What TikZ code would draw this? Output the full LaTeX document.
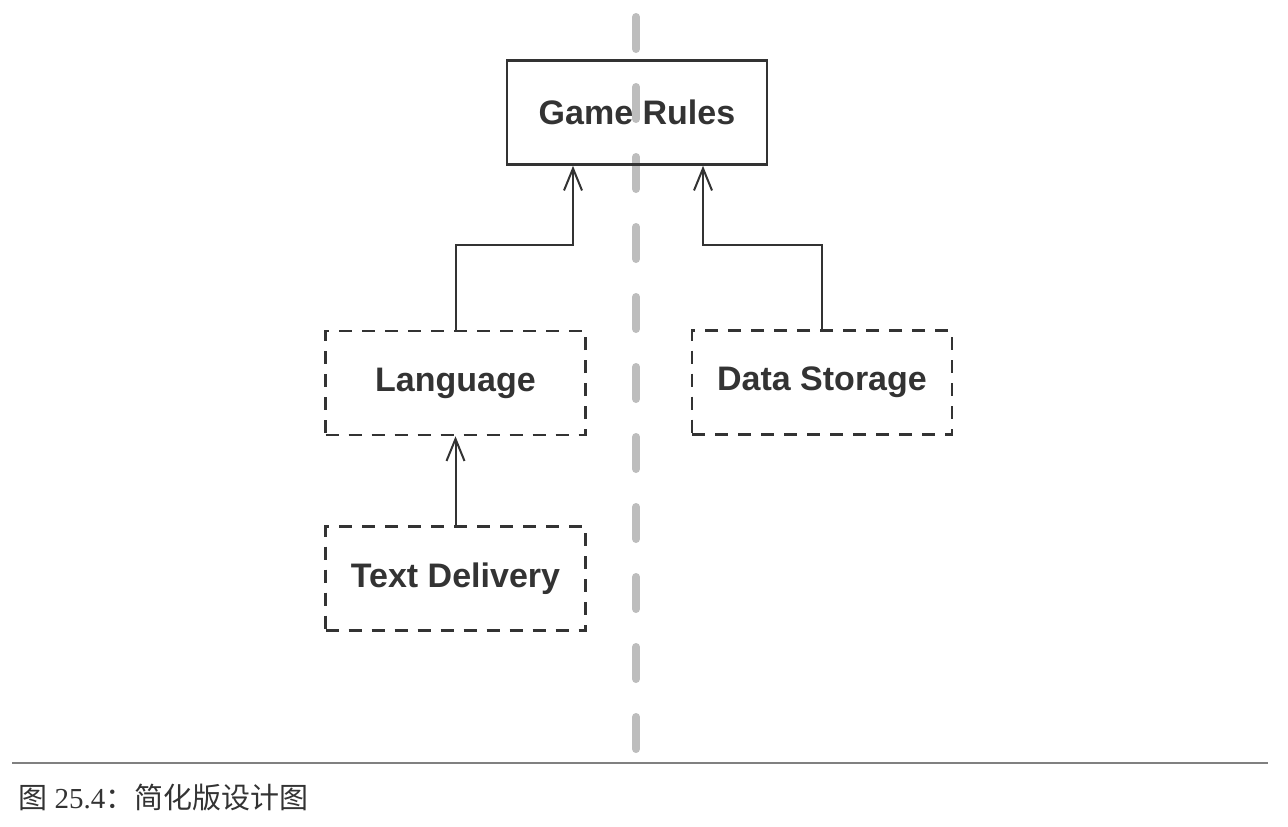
\documentclass[tikz,border=0pt]{standalone}
\usepackage{fontspec}
\setmainfont{Liberation Serif}
\newfontfamily\boxfont{Liberation Sans}
\newfontfamily\cjk{Noto Sans CJK SC}
\usetikzlibrary{arrows.meta,positioning}
\definecolor{ink}{HTML}{333333}
\definecolor{splitgray}{HTML}{BDBDBD}

\begin{document}
\begin{tikzpicture}[x=0.5pt,y=-0.5pt,>={Straight Barb[length=11pt,width=9pt]},
    node distance=44.5pt,
    module/.style={draw=ink,line width=1.3pt,minimum width=130pt,minimum height=52pt,
      text=ink,font=\boxfont\bfseries\fontsize{17pt}{20pt}\selectfont},
    planned/.style={module,dash pattern=on 6.5pt off 5pt}]
  \useasboundingbox (0,0) rectangle (1288,826);
  % dividing line
  \draw[splitgray,line width=4pt,line cap=round,dash pattern=on 16pt off 19pt] (636,17) -- (636,749);
  \node[module] (rules) at (637,112.5) {Game Rules};
  \node[planned] (lang) at (455.5,383) {Language};
  \node[planned] (store) at (822,382.5) {Data Storage};
  \node[planned] (text) [below=of lang] {Text Delivery};
  \coordinate (langbend) at (573,245);
  \coordinate (storebend) at (703,245);
  \draw[->,ink,line width=1pt] (lang.north) |- (langbend) -- (rules.south -| langbend);
  \draw[->,ink,line width=1pt] (store.north) |- (storebend) -- (rules.south -| storebend);
  \draw[->,ink,line width=1pt] (text) -- (lang);
  % caption
  \draw[gray,line width=0.75pt] (12,763) -- (1268,763);
  \node[anchor=base west,inner sep=0pt,text=ink,font=\fontsize{14.5pt}{17pt}\selectfont] (caption) at (18,808)
    {{\cjk 图} 25.4{\cjk ：简化版设计图}};
\end{tikzpicture}
\end{document}
